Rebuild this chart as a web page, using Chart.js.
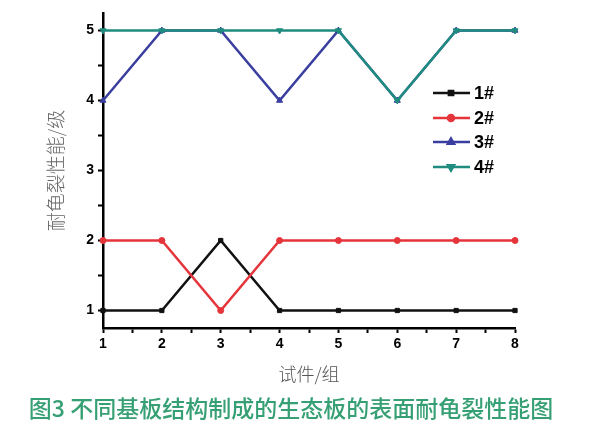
<!DOCTYPE html>
<html>
<head>
<meta charset="utf-8">
<script src="https://cdn.jsdelivr.net/npm/chart.js@4.4.1/dist/chart.umd.min.js"></script>
<style>
  html, body { margin: 0; padding: 0; background: #fff; }
  #wrap { width: 600px; height: 447px; }
</style>
</head>
<body>
<div id="wrap"><canvas id="crackChart"></canvas></div>
<script>
// data
const groups = [1, 2, 3, 4, 5, 6, 7, 8];
const s1 = [1, 1, 2, 1, 1, 1, 1, 1];
const s2 = [2, 2, 1, 2, 2, 2, 2, 2];
const s3 = [4, 5, 5, 4, 5, 4, 5, 5];
const s4 = [5, 5, 5, 5, 5, 4, 5, 5];
const seriesNames = ['1#', '2#', '3#', '4#'];
const xTicks = [1, 1.5, 2, 2.5, 3, 3.5, 4, 4.5, 5, 5.5, 6, 6.5, 7, 7.5, 8];
const yTicks = [1, 1.5, 2, 2.5, 3, 3.5, 4, 4.5, 5];
const xTitle = '试件/组';
const yTitle = '耐龟裂性能/级';
const caption = '图3 不同基板结构制成的生态板的表面耐龟裂性能图';

const colors = ['#111111', '#e5353b', '#3a3f9f', '#1f8c7f'];
const styles = [
  { pointStyle: 'rect', rotation: 0, radius: 3 },
  { pointStyle: 'circle', rotation: 0, radius: 3 },
  { pointStyle: 'triangle', rotation: 0, radius: 3.5 },
  { pointStyle: 'triangle', rotation: 180, radius: 3.5 }
];

function makeSet(i, values, order) {
  return {
    label: seriesNames[i],
    data: groups.map((g, k) => ({ x: g, y: values[k] })),
    borderColor: colors[i],
    backgroundColor: colors[i],
    borderWidth: 2.5,
    pointStyle: styles[i].pointStyle,
    pointRotation: styles[i].rotation,
    pointRadius: styles[i].radius,
    pointBorderWidth: 1,
    tension: 0,
    clip: false,
    order: order
  };
}

// legend drawn inside the plot, line + marker + bold label
const insideLegend = {
  id: 'insideLegend',
  afterDraw(chart) {
    const ctx = chart.ctx;
    const rows = [93, 118, 142, 167];
    ctx.save();
    chart.data.datasets.forEach((ds, i) => {
      const y = rows[i];
      ctx.strokeStyle = ds.borderColor;
      ctx.lineWidth = 2.5;
      ctx.beginPath();
      ctx.moveTo(433, y);
      ctx.lineTo(470, y);
      ctx.stroke();
      ctx.fillStyle = ds.borderColor;
      Chart.helpers.drawPoint(ctx, {
        pointStyle: ds.pointStyle, rotation: ds.pointRotation,
        radius: ds.pointRadius, borderWidth: 1
      }, 451, y);
      ctx.fillStyle = '#000';
      ctx.font = 'bold 18px "Liberation Sans", Arial, sans-serif';
      ctx.textAlign = 'left';
      ctx.textBaseline = 'middle';
      ctx.fillText(ds.label, 474, y + 1);
    });
    ctx.restore();
  }
};

const captionPlugin = {
  id: 'captionPlugin',
  afterDraw(chart) {
    const ctx = chart.ctx;
    ctx.save();
    ctx.fillStyle = '#36a074';
    ctx.font = '500 23px "Noto Sans CJK SC", sans-serif';
    ctx.textAlign = 'center';
    ctx.textBaseline = 'middle';
    ctx.fillText(caption, 291, 408, 527);
    ctx.restore();
  }
};

const tickFont = { family: '"Liberation Sans", Arial, sans-serif', size: 14, weight: 'bold' };

new Chart(document.getElementById('crackChart'), {
  type: 'line',
  data: {
    datasets: [makeSet(0, s1, 3), makeSet(1, s2, 2), makeSet(2, s3, 1), makeSet(3, s4, 0)]
  },
  options: {
    responsive: true,
    maintainAspectRatio: false,
    animation: false,
    layout: { padding: { left: 0, right: 85, top: 13, bottom: 59 } },
    plugins: { legend: { display: false }, tooltip: { enabled: false } },
    scales: {
      x: {
        type: 'linear',
        min: 1,
        max: 8,
        afterBuildTicks: axis => { axis.ticks = xTicks.map(v => ({ value: v })); },
        afterFit: axis => { axis.height = 60; },
        ticks: {
          color: '#000',
          font: tickFont,
          padding: 3,
          maxRotation: 0,
          autoSkip: false,
          callback: v => Number.isInteger(v) ? String(v) : ''
        },
        grid: { drawOnChartArea: false, drawTicks: true, tickLength: 5, tickColor: '#000', tickWidth: 2 },
        border: { display: true, color: '#000', width: 2.5 },
        title: {
          display: true,
          text: xTitle,
          color: '#555',
          font: { family: '"Noto Sans CJK SC", sans-serif', size: 18, weight: 300 },
          padding: { top: 0, bottom: 3 }
        }
      },
      y: {
        min: 0.75,
        max: 5.25,
        afterBuildTicks: axis => { axis.ticks = yTicks.map(v => ({ value: v })); },
        afterFit: axis => { axis.width = 103; },
        ticks: {
          color: '#000',
          font: tickFont,
          padding: 4,
          autoSkip: false,
          callback: v => Number.isInteger(v) ? String(v) : ''
        },
        grid: { drawOnChartArea: false, drawTicks: true, tickLength: 5, tickColor: '#000', tickWidth: 2 },
        border: { display: true, color: '#000', width: 2.5 },
        title: {
          display: true,
          text: yTitle,
          color: '#666',
          font: { family: '"Noto Sans CJK SC", sans-serif', size: 19, weight: 300 },
          padding: { top: 44, bottom: 0 }
        }
      }
    }
  },
  plugins: [insideLegend, captionPlugin]
});
</script>
</body>
</html>
